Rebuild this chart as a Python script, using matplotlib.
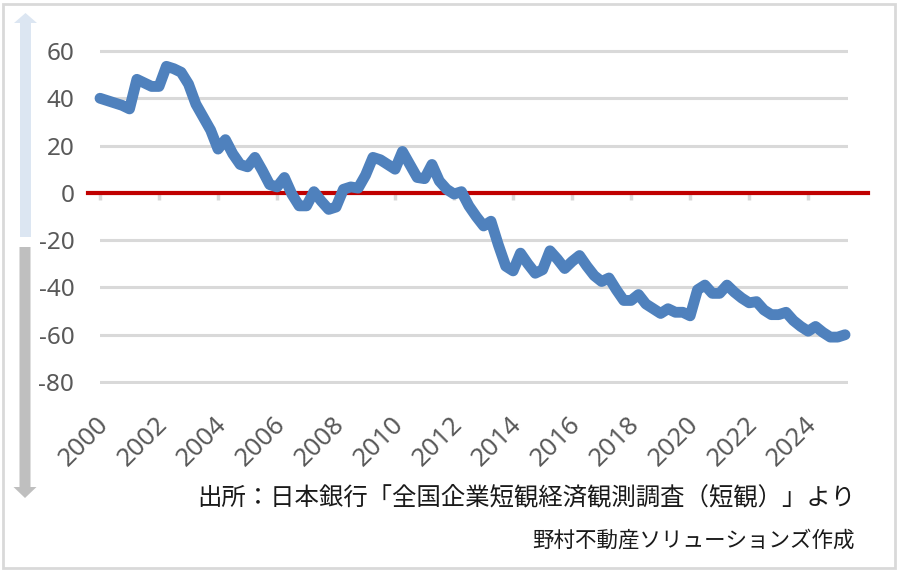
import matplotlib
matplotlib.use('Agg')
import matplotlib.pyplot as plt
from matplotlib.patches import FancyArrow, Rectangle
from matplotlib.transforms import Affine2D, ScaledTranslation

# 短観DI（四半期、2000Q1〜2025Q2）
start_year = 2000
di_values = [
    40, 39, 38, 37, 35.5, 48, 46.5, 45, 45, 53.5,
    52.5, 51, 46, 37.5, 32, 26.5, 18.5, 22.5, 16.5, 12,
    11, 15, 9.5, 3.5, 2.5, 6.5, -0.5, -5.5, -5.5, 0.5,
    -3.5, -7, -6, 1.5, 2.5, 2, 7.5, 15, 14, 12,
    10, 17.5, 12, 6.5, 6, 12, 5, 1.5, -0.5, 0.5,
    -5.5, -10, -14, -12, -22, -31, -33, -25.5, -30, -34,
    -32.5, -24.5, -28, -32, -29, -26.5, -31, -35, -37.5, -36,
    -41, -45.5, -45.5, -43, -47, -49, -51, -49, -50.5, -50.5,
    -52, -41, -39, -42.5, -42.5, -39, -42, -44.5, -46.5, -46,
    -49.5, -51.5, -51.5, -50.5, -54, -56.5, -58.5, -56.5, -59, -61,
    -61, -60,
]
year_labels = [str(y) for y in range(2000, 2025, 2)]
y_ticks = [60, 40, 20, 0, -20, -40, -60, -80]
source_text = '出所：日本銀行「全国企業短観経済観測調査（短観）」より'
maker_text = '野村不動産ソリューションズ作成'

plt.rcParams['font.family'] = ['Noto Sans', 'Noto Sans CJK JP', 'DejaVu Sans']
plt.rcParams['axes.unicode_minus'] = False

W, H = 900, 575
fig = plt.figure(figsize=(W / 100, H / 100), dpi=100)

# pixel -> figure helper
def fx(px):
    return px / W

def fy(py):
    return 1 - py / H

ax = fig.add_axes([fx(100), fy(384.4), fx(848) - fx(100), (384.4 - 48.6) / H])

quarters = list(range(len(di_values)))
ax.plot(quarters, di_values, color='#4F81BD', lw=7.8, solid_joinstyle='round',
        solid_capstyle='round', zorder=4, clip_on=False)
ax.axhline(0, xmin=-0.016, xmax=1.027, color='#C00000', lw=3, zorder=3, clip_on=False)

ax.set_xlim(0, 101.4)
ax.set_ylim(-81, 61)
ax.set_yticks(y_ticks)
ax.yaxis.grid(True, color='#D9D9D9', lw=2.2)
ax.set_axisbelow(True)
for s in ax.spines.values():
    s.set_visible(False)

tick_pos = [(int(y) - start_year) * 4 for y in year_labels]
ax.set_xticks(tick_pos)
ax.set_xticklabels(year_labels)
ax.tick_params(axis='x', length=0, pad=26, labelsize=18.5, labelcolor='#595959')
ax.tick_params(axis='y', length=0, pad=18.5, labelsize=17.5, labelcolor='#595959')
shift = ScaledTranslation(5 / 100, 0, fig.dpi_scale_trans)
for lab in ax.get_xticklabels():
    lab.set_rotation(45)
    lab.set_ha('right')
    lab.set_va('center')
    lab.set_rotation_mode('anchor')
    lab.set_transform(lab.get_transform() + shift)

# category axis tick marks on the zero line
sec = ax.secondary_xaxis(0, transform=ax.transData)
sec.set_xticks(tick_pos)
sec.tick_params(axis='x', length=5, width=2.5, color='#D9D9D9', labelbottom=False)
sec.spines['bottom'].set_visible(False)

# decorative arrows on the left (pixel coords, y from top)
pix = Affine2D().scale(1, -1).translate(0, H) + Affine2D().scale(1 / 100) + fig.dpi_scale_trans
fig.patches.append(FancyArrow(25.5, 237, 0, 13 - 237, width=11, head_width=23, head_length=10,
                              length_includes_head=True, color='#DCE6F2', lw=0, transform=pix))
fig.patches.append(FancyArrow(25, 247, 0, 498 - 247, width=11, head_width=23, head_length=11,
                              length_includes_head=True, color='#BFBFBF', lw=0, transform=pix))

# outer frame
fig.patches.append(Rectangle((3, 4), 892, 564, fill=False, edgecolor='#D9D9D9', lw=2, transform=pix))

fig.text(fx(855), fy(497), source_text, ha='right', va='center', fontsize=17.6,
         color='#1A1A1A', family=['Noto Sans CJK JP', 'DejaVu Sans'])
fig.text(fx(855), fy(541), maker_text, ha='right', va='center', fontsize=15.5,
         color='#1A1A1A', family=['Noto Sans CJK JP', 'DejaVu Sans'])

fig.savefig('out.png', dpi=100)
